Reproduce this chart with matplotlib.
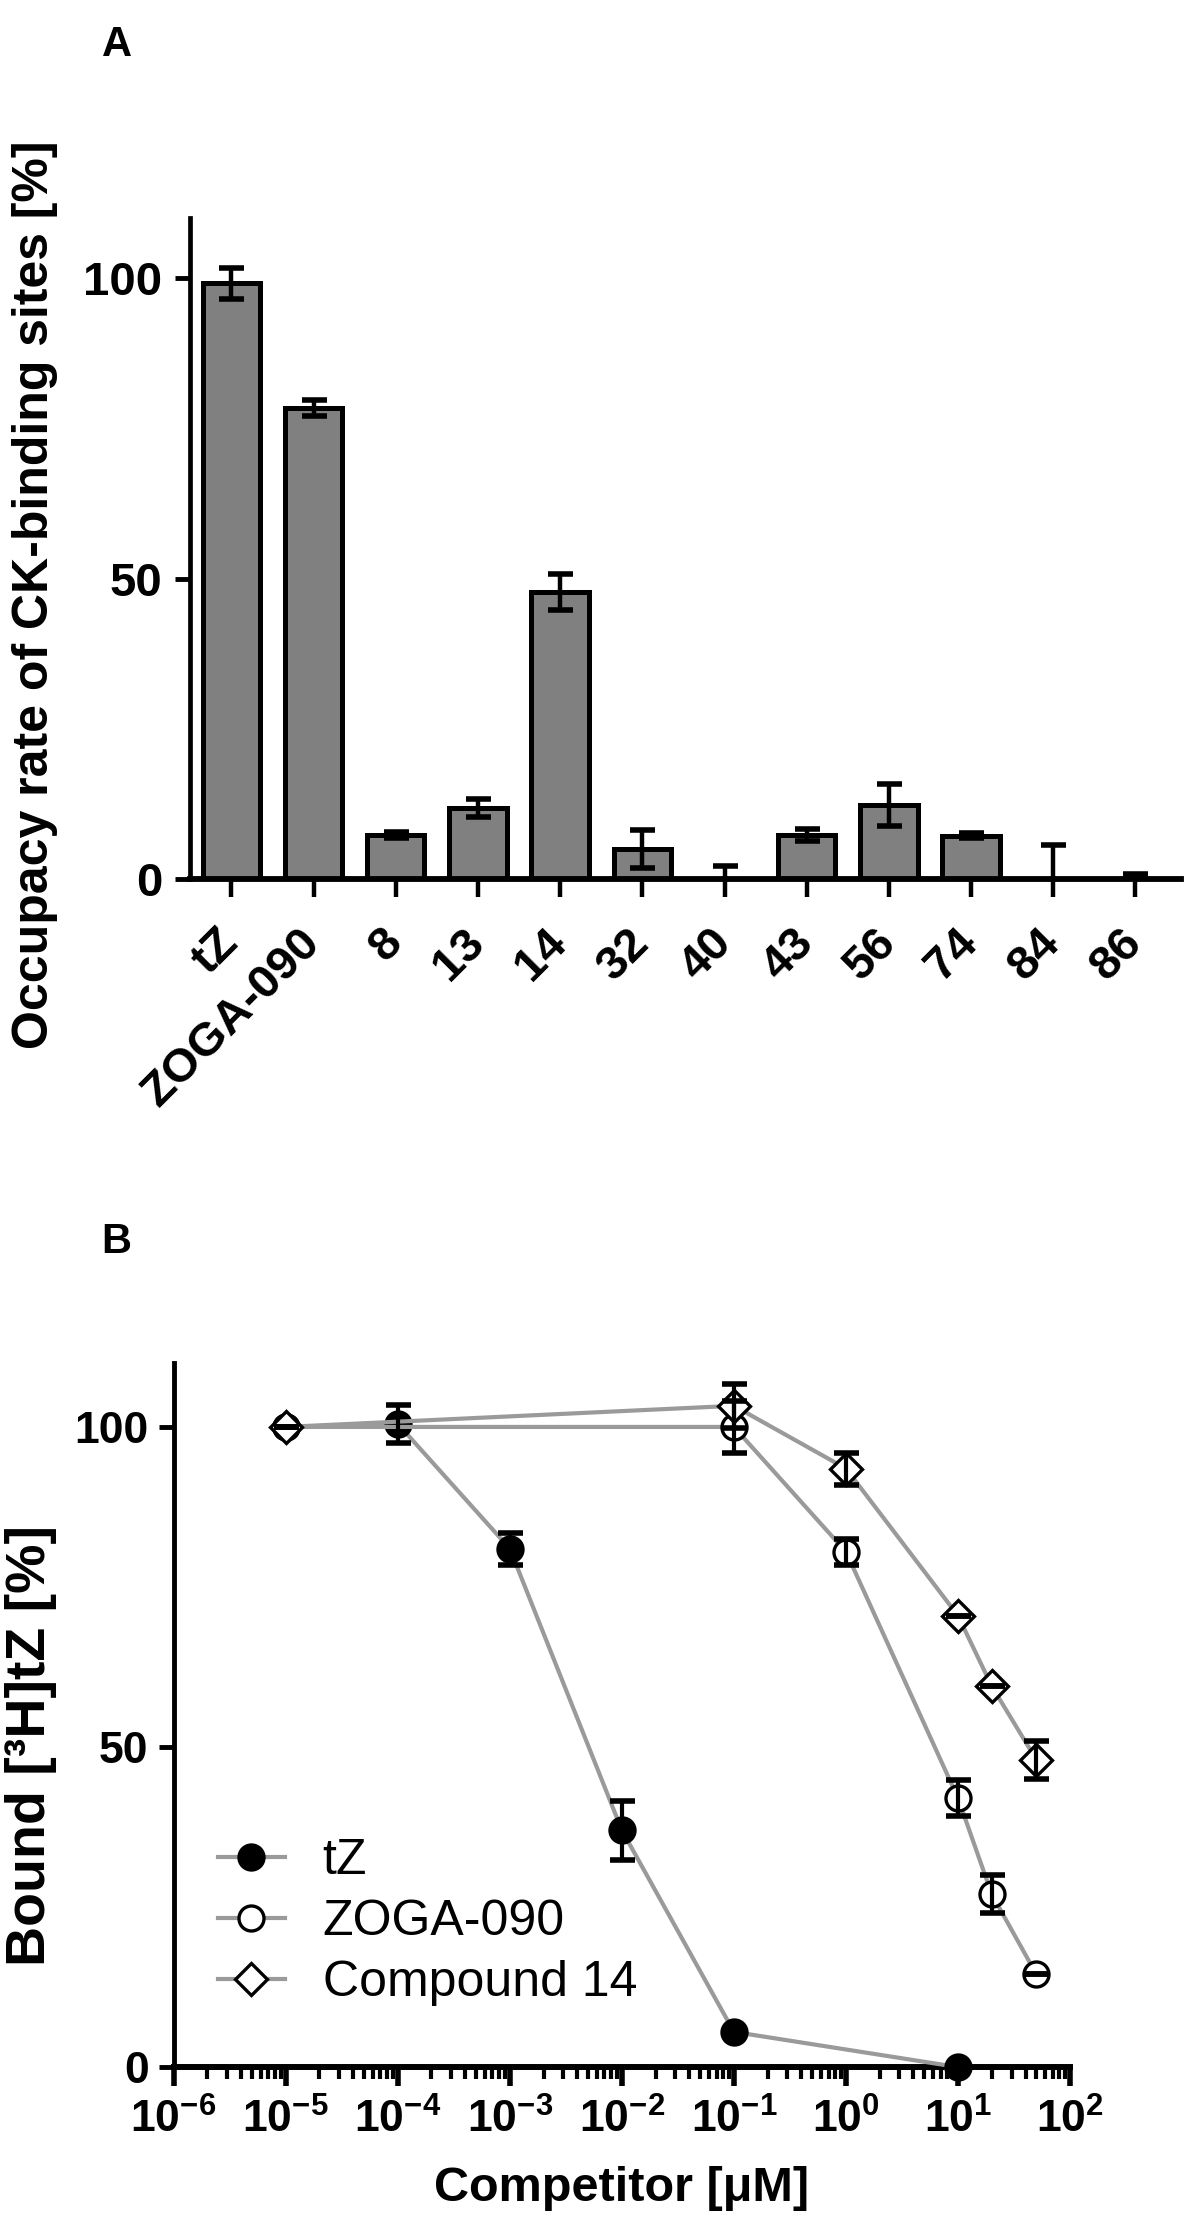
#Graficas de ocupacion (A) y de competencia (B)
import numpy as np
import matplotlib.pyplot as plt
from matplotlib.ticker import LogLocator, NullFormatter, FuncFormatter
from matplotlib.transforms import ScaledTranslation

plt.rcParams['font.family'] = ['Liberation Sans', 'DejaVu Sans']
plt.rcParams['mathtext.fontset'] = 'custom'
plt.rcParams['mathtext.rm'] = 'Liberation Sans'
plt.rcParams['mathtext.bf'] = 'Liberation Sans:bold'

#----------------------------------------- Datos panel A
compuestos = ['tZ', 'ZOGA-090', '8', '13', '14', '32', '40', '43', '56', '74', '84', '86']
ocupacion = [99.2, 78.4, 7.3, 11.9, 47.8, 5.0, 0, 7.4, 12.3, 7.2, 0, 0]
error_ocup = [2.6, 1.3, 0.5, 1.5, 3.0, 3.2, 2.2, 1.0, 3.5, 0.4, 5.6, 0.8]

#----------------------------------------- Datos panel B
conc_tz = [1e-5, 1e-4, 1e-3, 1e-2, 1e-1, 1e1]
bound_tz = [100, 100.5, 81, 37, 5.5, 0]
err_tz = [0, 3, 2.5, 4.6, 0, 0]

conc_zoga = [1e-5, 1e-1, 1, 10, 20, 50]
bound_zoga = [100, 100, 80.5, 42, 27, 14.5]
err_zoga = [0, 4, 2, 2.8, 3, 0]

conc_c14 = [1e-5, 1e-1, 1, 10, 20, 50]
bound_c14 = [100, 103.3, 93.5, 70.5, 59.5, 48]
err_c14 = [0, 3.4, 2.5, 0, 0, 3]

gris = '#9a9a9a'

fig = plt.figure(figsize=(11.89, 22.27), dpi=100)

#----------------------------------------- Panel A
axA = fig.add_axes([0.160, 0.6053, 0.833, 0.2967])
x = np.arange(len(compuestos))
axA.bar(x, ocupacion, width=0.7, color='#808080', edgecolor='black', linewidth=3.6, zorder=2)
axA.errorbar(x, ocupacion, yerr=error_ocup, fmt='none', ecolor='black',
             elinewidth=3.2, capsize=9, capthick=4, zorder=3)
axA.set_xlim(-0.5, 11.55)
axA.set_ylim(0, 110)
axA.set_yticks([0, 50, 100])
axA.set_xticks(x)
axA.set_xticklabels(compuestos, rotation=45, ha='right', va='center', rotation_mode='anchor',
                    fontweight='bold', fontsize=34)
corrimiento = ScaledTranslation(-8 / 72, 0, fig.dpi_scale_trans)
for lab in axA.get_xticklabels():
    lab.set_transform(lab.get_transform() + corrimiento)
for lab in axA.get_yticklabels():
    lab.set_fontweight('bold')
axA.tick_params(axis='y', direction='out', length=11, width=3.5, labelsize=34, pad=9)
axA.tick_params(axis='x', direction='out', length=13, width=3.2, pad=28)
axA.spines['top'].set_visible(False)
axA.spines['right'].set_visible(False)
axA.spines['left'].set_linewidth(3.4)
axA.spines['bottom'].set_linewidth(4.2)
axA.set_ylabel('Occupacy rate of CK-binding sites [%]', fontsize=36, fontweight='bold')
axA.yaxis.set_label_coords(-0.134, 0.43)

#----------------------------------------- Panel B
axB = fig.add_axes([0.146, 0.0718, 0.754, 0.3162])
series = [
    (conc_tz, bound_tz, err_tz, 'o', 'black', 'tZ'),
    (conc_zoga, bound_zoga, err_zoga, 'o', 'white', 'ZOGA-090'),
    (conc_c14, bound_c14, err_c14, 'D', 'white', 'Compound 14'),
]
for cx, cy, ce, mk, relleno, nombre in series:
    tam = 18 if mk == 'o' else 16
    axB.plot(cx, cy, color=gris, linewidth=3.0, marker=mk, markersize=tam,
             markerfacecolor=relleno, markeredgecolor='black', markeredgewidth=2.4,
             label=nombre, clip_on=False, zorder=3)
    axB.errorbar(cx, cy, yerr=ce, fmt='none', ecolor='black', elinewidth=3,
                 capsize=9, capthick=4, zorder=4, clip_on=False)

axB.set_xscale('log')
axB.set_xlim(1e-6, 1e2)
axB.set_ylim(0, 110)
axB.set_yticks([0, 50, 100])
axB.xaxis.set_major_locator(LogLocator(base=10, numticks=20))
axB.xaxis.set_minor_locator(LogLocator(base=10, subs=np.arange(2, 10), numticks=20))
axB.xaxis.set_minor_formatter(NullFormatter())
axB.xaxis.set_major_formatter(FuncFormatter(lambda v, p: r'$\mathbf{10^{%d}}$' % round(np.log10(v))))
for lab in axB.get_yticklabels():
    lab.set_fontweight('bold')
axB.tick_params(axis='y', direction='out', length=11, width=3.5, labelsize=32, pad=7)
axB.tick_params(axis='x', which='major', direction='out', length=14, width=4, labelsize=32, pad=9)
axB.tick_params(axis='x', which='minor', direction='out', length=8.5, width=3)
axB.spines['top'].set_visible(False)
axB.spines['right'].set_visible(False)
axB.spines['left'].set_linewidth(3.5)
axB.spines['bottom'].set_linewidth(4.3)
axB.set_xlabel('Competitor [μM]', fontsize=35, fontweight='bold')
axB.xaxis.set_label_coords(0.5, -0.141)
axB.set_ylabel('Bound [³H]tZ [%]', fontsize=40, fontweight='bold')
axB.yaxis.set_label_coords(-0.13, 0.457)

axB.legend(loc='center left', bbox_to_anchor=(0.049, 0.206), frameon=False, fontsize=36,
           handlelength=1.34, handletextpad=0.76, labelspacing=0.3, borderpad=0, borderaxespad=0)

#----------------------------------------- Letras de panel
fig.text(0.098, 0.980, 'A', fontsize=30, fontweight='bold', ha='center', va='center')
fig.text(0.098, 0.4423, 'B', fontsize=30, fontweight='bold', ha='center', va='center')

fig.savefig('out.png', dpi=100)
